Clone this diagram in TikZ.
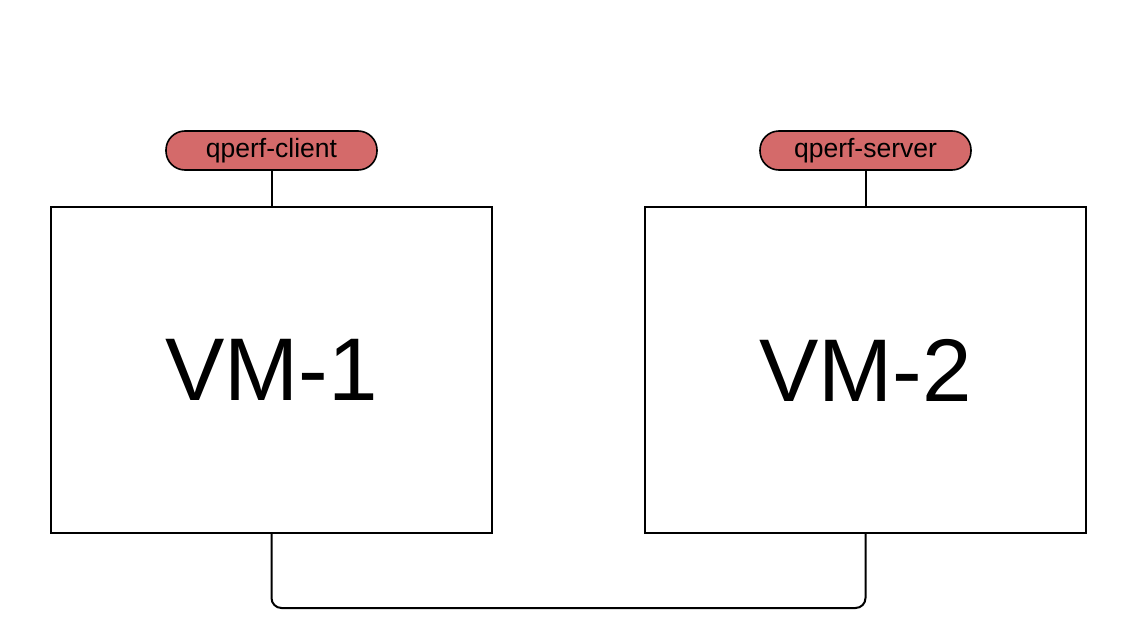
\documentclass[tikz,border=0pt]{standalone}
\usepackage{fontspec}
\setmainfont{Liberation Sans}
\definecolor{pillred}{RGB}{212,106,106}
\begin{document}
\begin{tikzpicture}[x=1pt,y=-1pt,
  vmbox/.style={draw=black,line width=2pt,fill=white,minimum width=441pt,minimum height=326pt,inner sep=0pt,font=\fontsize{89}{100}\selectfont},
  pill/.style={draw=black,line width=1.6pt,fill=pillred,rounded corners=19pt,minimum width=211pt,minimum height=39pt,inner sep=0pt,font=\fontsize{26.5}{30}\selectfont},
  wire/.style={draw=black,line width=2pt}]
\useasboundingbox (0,0) rectangle (1134,642);
\fill[white] (0,0) rectangle (1134,642);
\node[vmbox] (vm1) at (271.5,370) {VM-1};
\node[vmbox] (vm2) at (865.5,370) {VM-2};
\node[pill] (cl) at (271.5,150.5) {qperf-client};
\node[pill] (sv) at (865.5,150.5) {qperf-server};
\draw[wire] (cl.south) -- (vm1.north);
\draw[wire] (sv.south) -- (vm2.north);
\coordinate (b1) at (271.5,608);
\coordinate (b2) at (865.5,608);
\draw[wire,rounded corners=10pt] (vm1.south) -- (b1) -- (b2) -- (vm2.south);
\end{tikzpicture}
\end{document}
